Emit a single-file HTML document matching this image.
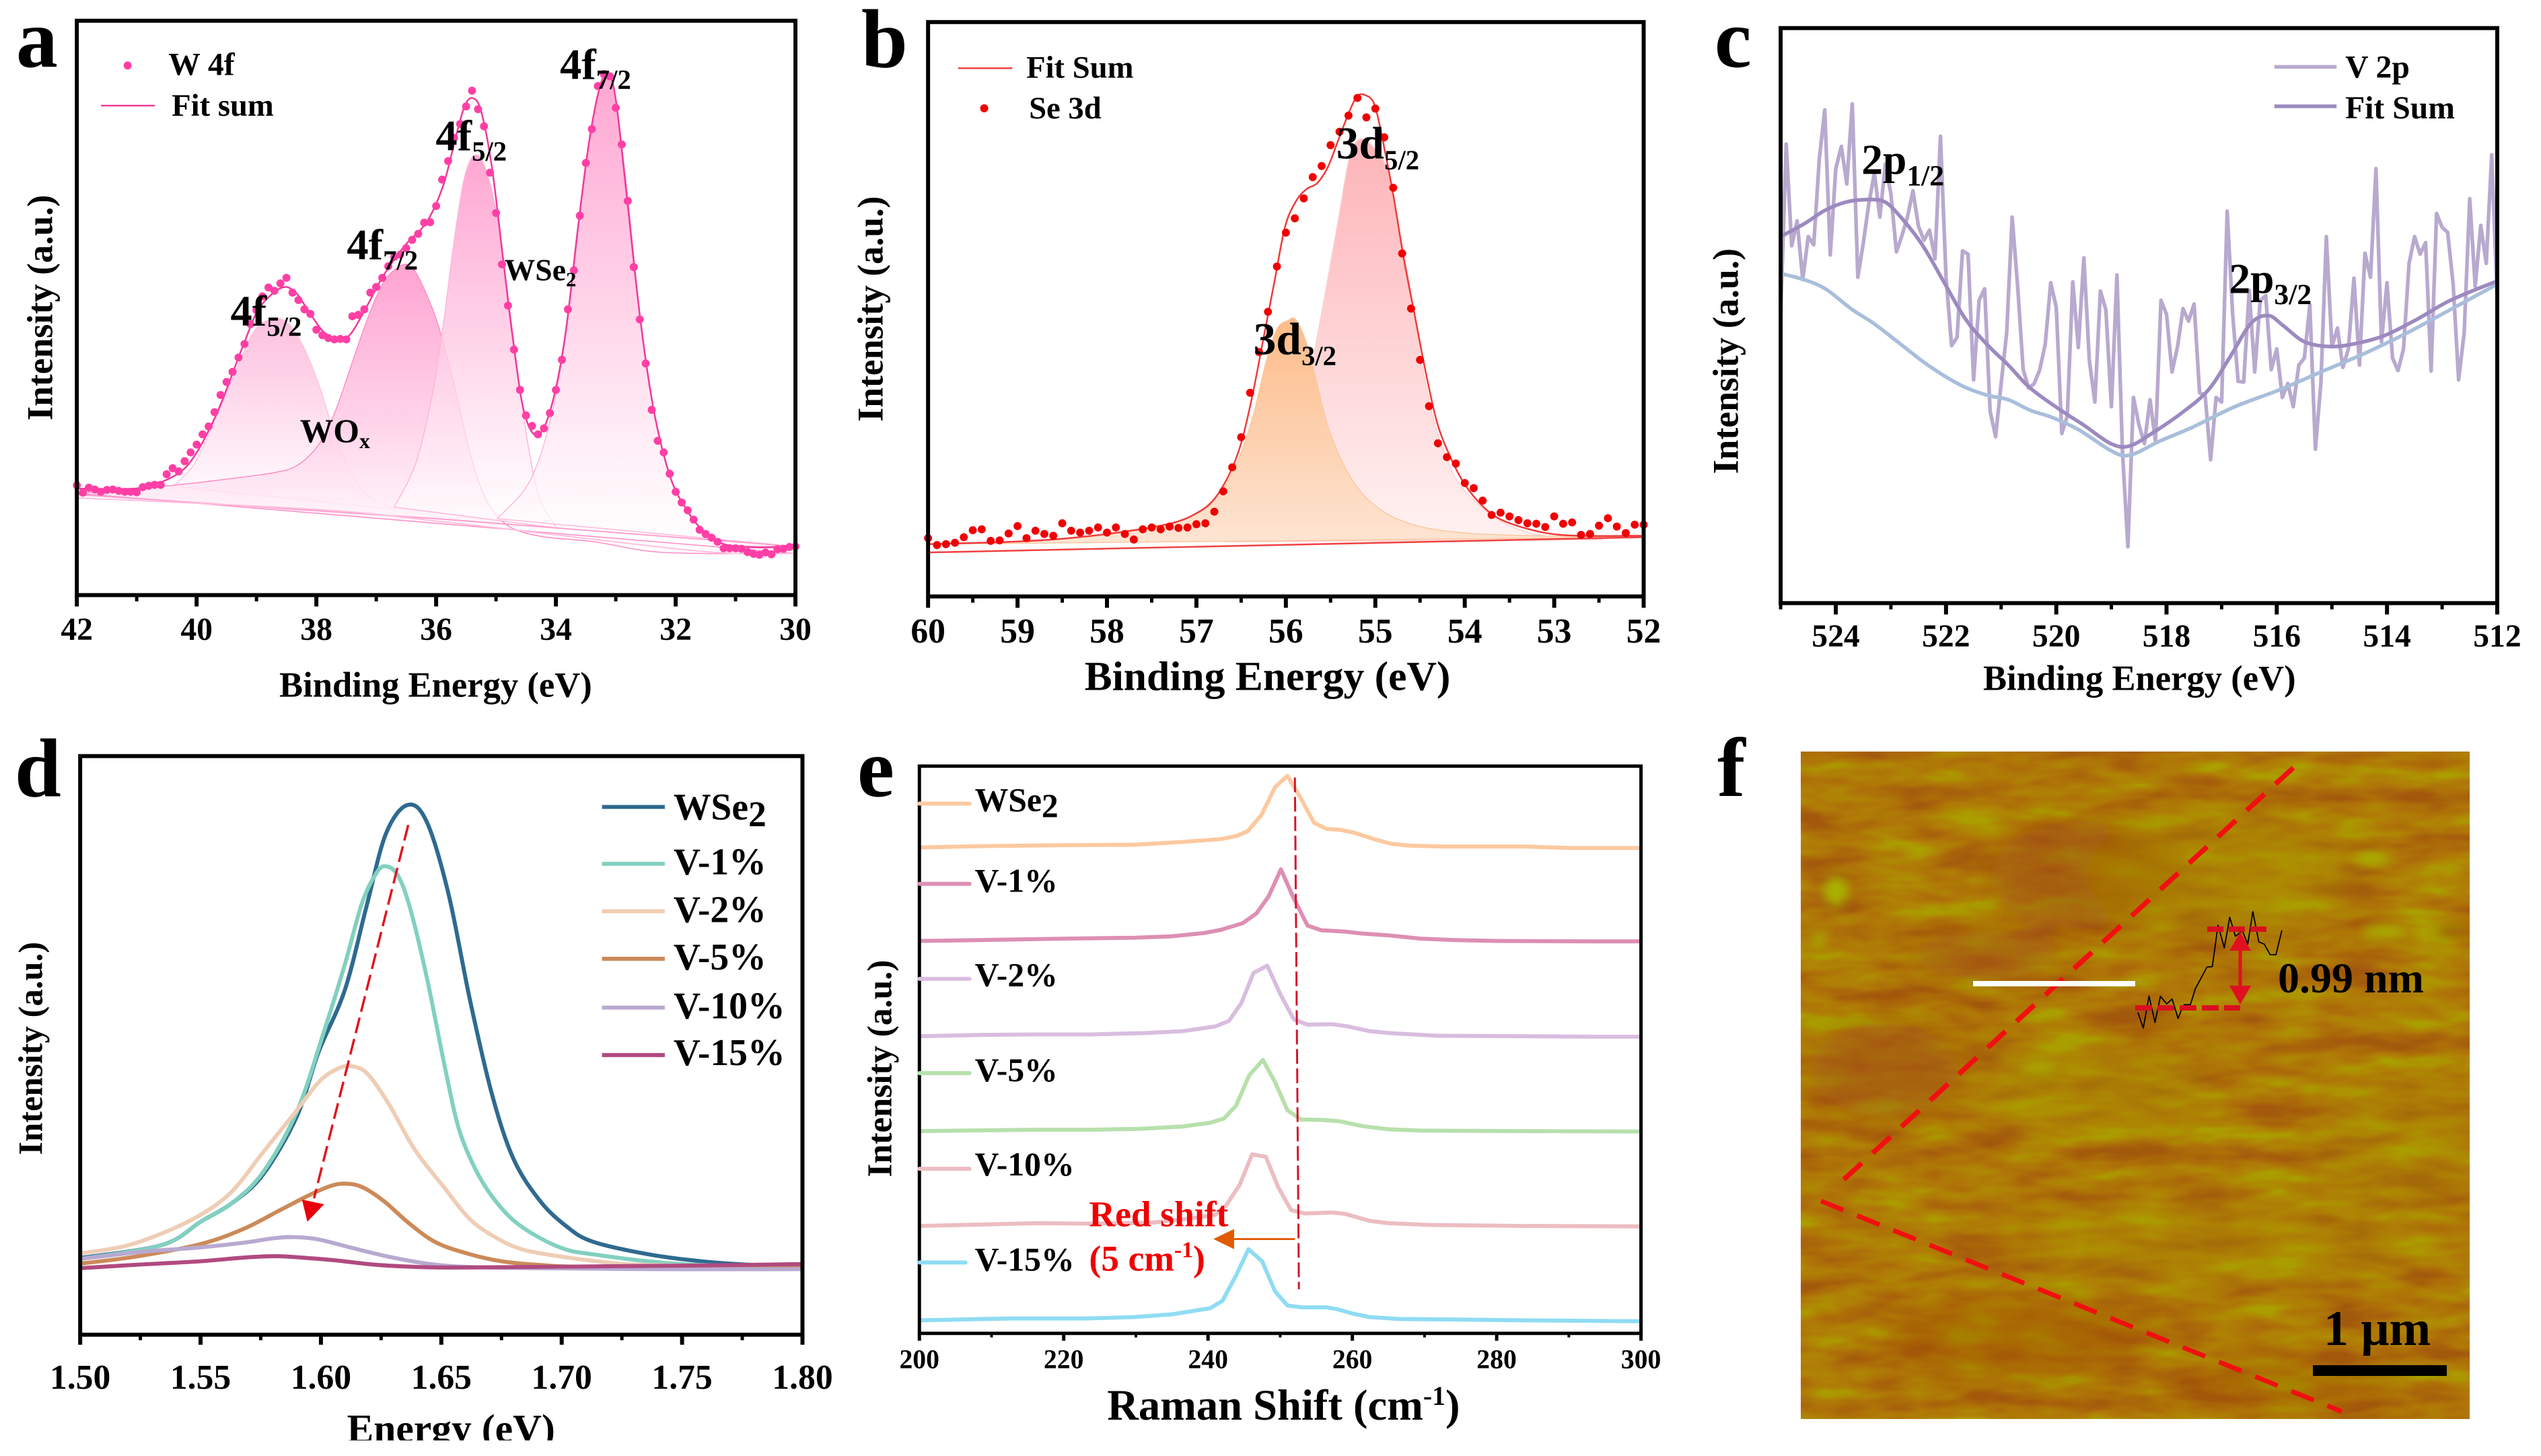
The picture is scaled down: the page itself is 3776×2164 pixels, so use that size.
<!DOCTYPE html>
<html lang="en">
<head>
<meta charset="utf-8">
<title>WSe2 characterization figure</title>
<style>
html,body{margin:0;padding:0;background:#fff;}
svg{display:block;font-family:"Liberation Serif","Noto Serif CJK SC",serif;font-weight:bold;fill:#000;}
</style>
</head>
<body>
<svg id="fig" xmlns="http://www.w3.org/2000/svg" width="3776" height="2164" viewBox="0 0 3776 2164">
<defs>
  <linearGradient id="gA1" x1="0" y1="0" x2="0" y2="1"><stop offset="0" stop-color="#fcb8da" stop-opacity=".9"/><stop offset="1" stop-color="#ffffff" stop-opacity=".9"/></linearGradient>
  <linearGradient id="gA2" x1="0" y1="0" x2="0" y2="1"><stop offset="0" stop-color="#ff98cc" stop-opacity=".9"/><stop offset=".55" stop-color="#ffcce6" stop-opacity=".85"/><stop offset="1" stop-color="#ffffff" stop-opacity=".8"/></linearGradient>
  <linearGradient id="gA3" x1="0" y1="0" x2="0" y2="1"><stop offset="0" stop-color="#ff9ccd" stop-opacity=".9"/><stop offset=".5" stop-color="#ffcde6" stop-opacity=".85"/><stop offset="1" stop-color="#ffffff" stop-opacity=".7"/></linearGradient>
  <linearGradient id="gB1" x1="0" y1="0" x2="0" y2="1"><stop offset="0" stop-color="#fdb4b8"/><stop offset="1" stop-color="#fff2f2"/></linearGradient>
  <linearGradient id="gB2" x1="0" y1="0" x2="0" y2="1"><stop offset="0" stop-color="#fdbb88"/><stop offset="1" stop-color="#fde6d6"/></linearGradient>
  <filter id="afm" x="0" y="0" width="100%" height="100%" color-interpolation-filters="sRGB">
    <feTurbulence type="fractalNoise" baseFrequency="0.009 0.03" numOctaves="3" seed="11"/>
    <feColorMatrix type="matrix" values="1.7 0 0 0 -0.35  1.7 0 0 0 -0.35  1.7 0 0 0 -0.35  0 0 0 0 1"/>
    <feComponentTransfer>
      <feFuncR type="table" tableValues="0.64 0.67 0.69 0.69 0.67"/>
      <feFuncG type="table" tableValues="0.35 0.41 0.47 0.53 0.62"/>
      <feFuncB type="table" tableValues="0.05 0.04 0.03 0.02 0.0"/>
    </feComponentTransfer>
  </filter>
  <filter id="soft" x="-50%" y="-50%" width="200%" height="200%"><feGaussianBlur stdDeviation="22"/></filter>
  <filter id="soft2" x="-50%" y="-50%" width="200%" height="200%"><feGaussianBlur stdDeviation="8"/></filter>
  <clipPath id="afmClip"><rect x="2676" y="1117" width="994" height="992"/></clipPath>
</defs>

<g id="panel-a" transform="scale(0.9929,0.9938)">
  <text x="24" y="100" font-size="125">a</text>
  <g id="plot-a"></g>
  <text transform="translate(78,460) rotate(-90)" text-anchor="middle" font-size="54">Intensity (a.u.)</text>
  <text x="652" y="1042" text-anchor="middle" font-size="53">Binding Energy (eV)</text>
  <circle cx="191" cy="98" r="6" fill="#ff3fa5"/>
  <text x="252" y="112" font-size="48">W 4f</text>
  <line x1="151" y1="158" x2="232" y2="158" stroke="#f0409a" stroke-width="2.5"/>
  <text x="257" y="173" font-size="47">Fit sum</text>
  <text x="838" y="118" font-size="65">4f<tspan dy="15" font-size="41">7/2</tspan></text>
  <text x="652" y="225" font-size="65">4f<tspan dy="15" font-size="41">5/2</tspan></text>
  <text x="519" y="388" font-size="65">4f<tspan dy="15" font-size="41">7/2</tspan></text>
  <text x="345" y="487" font-size="65">4f<tspan dy="15" font-size="41">5/2</tspan></text>
  <text x="755" y="419" font-size="46">WSe<tspan dy="9" font-size="31">2</tspan></text>
  <text x="449" y="661" font-size="50">WO<tspan dy="9" font-size="32">x</tspan></text>
</g>

<g id="panel-b" transform="translate(1260,0) scale(0.9929,0.9938) translate(-1260,0)">
  <text x="1280" y="100" font-size="125">b</text>
  <g id="plot-b"></g>
  <text transform="translate(1312,462) rotate(-90)" text-anchor="middle" font-size="54">Intensity (a.u.)</text>
  <text x="1888" y="1032" text-anchor="middle" font-size="62">Binding Energy (eV)</text>
  <line x1="1425" y1="102" x2="1506" y2="102" stroke="#f04040" stroke-width="2.5"/>
  <text x="1527" y="116" font-size="47">Fit Sum</text>
  <circle cx="1464" cy="162" r="6" fill="#f00000"/>
  <text x="1531" y="177" font-size="47">Se 3d</text>
  <text x="1991" y="237" font-size="68">3d<tspan dy="16" font-size="41">5/2</tspan></text>
  <text x="1867" y="530" font-size="68">3d<tspan dy="16" font-size="41">3/2</tspan></text>
</g>

<g id="panel-c" transform="translate(2520,0) scale(0.9929,0.9938) translate(-2520,0)">
  <text x="2548" y="100" font-size="125">c</text>
  <g id="plot-c"></g>
  <text transform="translate(2583,540) rotate(-90)" text-anchor="middle" font-size="54">Intensity (a.u.)</text>
  <text x="3184" y="1032" text-anchor="middle" font-size="53">Binding Energy (eV)</text>
  <line x1="3386" y1="100" x2="3479" y2="100" stroke="#b8a9cf" stroke-width="5.5"/>
  <text x="3492" y="116" font-size="48">V 2p</text>
  <line x1="3386" y1="159" x2="3479" y2="159" stroke="#9c8abf" stroke-width="5.5"/>
  <text x="3492" y="177" font-size="48">Fit Sum</text>
  <text x="2768" y="260" font-size="64">2p<tspan dy="17" font-size="44">1/2</tspan></text>
  <text x="3318" y="438" font-size="64">2p<tspan dy="17" font-size="44">3/2</tspan></text>
</g>

<g id="panel-d" transform="translate(0,1080) scale(0.9929,0.9942) translate(0,-1080)">
  <text x="22" y="1184" font-size="125">d</text>
  <g id="plot-d"></g>
  <text transform="translate(63,1561) rotate(-90)" text-anchor="middle" font-size="51">Intensity (a.u.)</text>
  <text x="675" y="2149" text-anchor="middle" font-size="60">Energy (eV)</text>
  <rect x="400" y="2147" width="600" height="30" fill="#fff"/>
  <g id="legend-d">
    <line x1="901" y1="1200" x2="995" y2="1200" stroke="#2f6a8f" stroke-width="6"/>
    <text x="1008" y="1219" font-size="56">WSe<tspan dy="10" font-size="54">2</tspan></text>
    <line x1="901" y1="1285" x2="995" y2="1285" stroke="#82d0c0" stroke-width="6"/>
    <text x="1008" y="1301" font-size="56">V-1%</text>
    <line x1="901" y1="1356" x2="995" y2="1356" stroke="#efcdb5" stroke-width="6"/>
    <text x="1008" y="1372" font-size="56">V-2%</text>
    <line x1="901" y1="1427" x2="995" y2="1427" stroke="#cc8a58" stroke-width="6"/>
    <text x="1008" y="1443" font-size="56">V-5%</text>
    <line x1="901" y1="1500" x2="995" y2="1500" stroke="#b8a9d0" stroke-width="6"/>
    <text x="1008" y="1516" font-size="56">V-10%</text>
    <line x1="901" y1="1571" x2="995" y2="1571" stroke="#b04a80" stroke-width="6"/>
    <text x="1008" y="1586" font-size="56">V-15%</text>
  </g>
  <line x1="611" y1="1227" x2="470" y2="1785" stroke="#e0141e" stroke-width="3.5" stroke-dasharray="24 9"/>
  <polygon points="452,1787 485,1794 460,1820" fill="#e8000b"/>
</g>

<g id="panel-e" transform="translate(1260,1080) scale(0.9929,0.9942) translate(-1260,-1080)">
  <text x="1274" y="1184" font-size="125">e</text>
  <g id="plot-e"></g>
  <text transform="translate(1325,1591) rotate(-90)" text-anchor="middle" font-size="52">Intensity (a.u.)</text>
  <text x="1912" y="2116" text-anchor="middle" font-size="65">Raman Shift (cm<tspan dy="-22" font-size="40">-1</tspan><tspan dy="22">)</tspan></text>
  <g id="legend-e">
    <line x1="1367" y1="1195" x2="1442" y2="1195" stroke="#fcc9a0" stroke-width="6" stroke-linecap="round"/>
    <text x="1450" y="1206" font-size="50">WSe<tspan dy="9" font-size="50">2</tspan></text>
    <line x1="1367" y1="1315" x2="1442" y2="1315" stroke="#dd8fb3" stroke-width="6" stroke-linecap="round"/>
    <text x="1450" y="1327" font-size="50">V-1%</text>
    <line x1="1367" y1="1457" x2="1442" y2="1457" stroke="#d9bde0" stroke-width="6" stroke-linecap="round"/>
    <text x="1450" y="1468" font-size="50">V-2%</text>
    <line x1="1367" y1="1598" x2="1442" y2="1598" stroke="#b7e0ac" stroke-width="6" stroke-linecap="round"/>
    <text x="1450" y="1610" font-size="50">V-5%</text>
    <line x1="1367" y1="1741" x2="1442" y2="1741" stroke="#ecbdc2" stroke-width="6" stroke-linecap="round"/>
    <text x="1450" y="1751" font-size="50">V-10%</text>
    <line x1="1367" y1="1881" x2="1436" y2="1881" stroke="#8fdcf3" stroke-width="6" stroke-linecap="round"/>
    <text x="1450" y="1893" font-size="50">V-15%</text>
  </g>
  <line x1="1929" y1="1156" x2="1935" y2="1921" stroke="#d4142a" stroke-width="3" stroke-dasharray="22 7"/>
  <text x="1621" y="1827" font-size="54" fill="#f00000">Red shift</text>
  <text x="1621" y="1893" font-size="54" fill="#f00000">(5 cm<tspan dy="-20" font-size="34">-1</tspan><tspan dy="20">)</tspan></text>
  <line x1="1929" y1="1846" x2="1835" y2="1846" stroke="#e05a00" stroke-width="3"/>
  <polygon points="1807,1846 1838,1831 1838,1861" fill="#e05a00"/>
</g>

<g id="panel-f">
  <text x="2552" y="1183" font-size="125">f</text>
  <g clip-path="url(#afmClip)">
    <rect x="2676" y="1117" width="994" height="992" fill="#b0780c"/>
    <rect x="2676" y="1117" width="994" height="992" filter="url(#afm)"/>
    <g filter="url(#soft)">
      <ellipse cx="3100" cy="1300" rx="140" ry="80" fill="#a0500f" opacity=".55"/>
      <ellipse cx="2950" cy="1420" rx="110" ry="35" fill="#a0500f" opacity=".5"/>
      <ellipse cx="2800" cy="1590" rx="110" ry="70" fill="#a0500f" opacity=".5"/>
      <ellipse cx="3000" cy="1990" rx="200" ry="60" fill="#a0500f" opacity=".4"/>
      <ellipse cx="3390" cy="2060" rx="180" ry="30" fill="#a0500f" opacity=".4"/>
      <ellipse cx="3300" cy="1300" rx="200" ry="90" fill="#a89a00" opacity=".35"/>
      <ellipse cx="3100" cy="1620" rx="180" ry="60" fill="#a89a00" opacity=".35"/>
      <ellipse cx="3300" cy="1850" rx="300" ry="60" fill="#a89a00" opacity=".3"/>
      <ellipse cx="3560" cy="1700" rx="120" ry="100" fill="#a89a00" opacity=".25"/>
    </g>
    <g filter="url(#soft2)">
      <ellipse cx="2728" cy="1325" rx="17" ry="22" fill="#a8b400"/>
      <ellipse cx="3525" cy="1276" rx="26" ry="10" fill="#a8b000"/>
      <ellipse cx="3545" cy="1385" rx="32" ry="9" fill="#a8b000"/>
      <ellipse cx="3028" cy="1587" rx="28" ry="10" fill="#a8a800"/>
      <ellipse cx="2703" cy="1398" rx="10" ry="12" fill="#a8a800"/>
      <ellipse cx="3650" cy="1384" rx="30" ry="6" fill="#9a4a10"/>
    </g>
  </g>
  <line x1="3408" y1="1141" x2="2728" y2="1764" stroke="#f01010" stroke-width="7.5" stroke-dasharray="36 22"/>
  <line x1="2706" y1="1785" x2="3480" y2="2098" stroke="#f01010" stroke-width="7" stroke-dasharray="36 22"/>
  <rect x="2932" y="1458" width="241" height="8" fill="#fff"/>
  <g id="profile"></g>
  <line x1="3280" y1="1381" x2="3370" y2="1381" stroke="#d81020" stroke-width="8" stroke-dasharray="24 8"/>
  <line x1="3173" y1="1498" x2="3329" y2="1498" stroke="#d81020" stroke-width="8" stroke-dasharray="25 8"/>
  <line x1="3329" y1="1400" x2="3329" y2="1480" stroke="#e01020" stroke-width="5"/>
  <polygon points="3329,1385 3313,1413 3345,1413" fill="#e01020"/>
  <polygon points="3329,1493 3313,1465 3345,1465" fill="#e01020"/>
  <text x="3385" y="1475" font-size="64">0.99 nm</text>
  <text x="3453" y="1999" font-size="74">1 μm</text>
  <rect x="3437" y="2029" width="199" height="16" fill="#000"/>
</g>
</svg>

<script>
/* ---------- panel a : W 4f ---------- */
const aDotStart = 42, aDotStep = -0.1;
const aDots = [237,221,232,228,223,227,228,225,223,223,222,233,236,238,238,261,274,267,289,308,325,347,364,395,432,460,482,513,542,585,615,645,664,657,673,685,653,637,617,607,573,561,555,552,553,552,602,605,617,653,665,685,710,730,735,749,767,780,804,805,840,897,937,987,1017,1055,1089,1049,1012,912,825,714,625,530,443,388,365,347,360,393,443,508,617,701,819,933,1006,1099,1125,1120,1052,973,851,708,595,500,400,333,308,262,223,200,183,163,141,132,124,115,101,101,101,100,93,89,87,92,88,99,100,104,105];
const aFitX = [42,41.03,40.57,40.12,39.67,39.22,38.95,38.59,38.36,38.14,37.87,37.6,37.42,37.15,36.88,36.52,36.16,35.88,35.66,35.52,35.39,35.25,35.07,34.89,34.71,34.53,34.31,34.08,33.85,33.63,33.45,33.27,33.13,33,32.82,32.59,32.36,32.09,31.82,31.55,31.19,30.65,30];
const aFitY = [230,230,245,285,390,540,620,663,655,615,567,553,565,625,690,755,805,885,995,1057,1073,1045,925,735,545,395,345,405,555,795,975,1095,1127,1070,865,595,395,255,185,140,110,103,105];
const aP1X = [40.39,40.03,39.67,39.31,39.04,38.77,38.5,38.23,37.96,37.69,37.42,37.15,36.7];
const aP1Y = [235,285,385,495,570,595,590,540,455,345,265,215,185];
const aP2X = [42,40.39,39.22,38.68,38.32,37.96,37.69,37.42,37.15,36.88,36.61,36.43,36.25,35.97,35.7,35.43,35.16,34.8,34.26,33.36,32.46,31.55,30];
const aP2Y = [220,237,255,265,280,325,395,495,595,675,710,710,675,585,455,305,205,150,127,115,95,90,90];
const aP3X = [36.7,36.34,36.06,35.88,35.7,35.52,35.34,35.16,34.98,34.8,34.62,34.44,34.26,33.99];
const aP3Y = [190,285,435,585,765,905,950,915,815,645,465,305,205,145];
const aP4X = [34.98,34.44,34.08,33.81,33.54,33.36,33.18,33.04,32.82,32.59,32.36,32.09,31.82,31.55,31.19,30];
const aP4Y = [165,245,385,585,885,1035,1120,1095,885,595,395,255,185,140,110,105];
const aBase1X = [42,36,30];
const aBase1Y = [217,165,105];
const aBase2X = [42,38,36,34,32,31,30];
const aBase2Y = [210,185,160,130,100,90,90];
const aMajor = [42,40,38,36,34,32,30];
const aMinor = [41,39,37,35,33,31];

/* ---------- panel b : Se 3d ---------- */
const bDotStart = 60, bDotStep = -0.1;
const bDots = [126,111,113,116,128,143,145,120,121,136,152,126,142,135,131,158,142,138,142,149,138,149,135,123,145,149,145,151,148,149,156,158,183,227,279,344,440,528,615,713,786,817,860,906,930,975,1004,1039,1077,1035,1054,992,883,741,622,511,411,331,301,287,245,234,207,176,181,173,165,158,157,150,173,157,160,133,135,153,169,151,137,155,155];
const bFitX = [60,59.08,58.48,57.88,57.28,56.97,56.79,56.61,56.49,56.37,56.25,56.13,56.01,55.89,55.77,55.65,55.53,55.41,55.29,55.2,55.11,55.01,54.92,54.8,54.68,54.56,54.44,54.32,54.2,54.02,53.84,53.66,53.42,53.06,52.69,52];
const bFitY = [113,118,125,138,158,183,213,273,338,438,558,678,798,853,880,893,928,988,1048,1081,1083,1063,988,868,728,608,488,383,318,248,203,173,153,136,131,131];
const bP1X = [56.67,56.19,55.89,55.71,55.53,55.41,55.29,55.17,55.01,54.86,54.74,54.62,54.5,54.38,54.26,54.08,53.84,53.6,53.18,52.45];
const bP1Y = [118,188,328,498,688,818,948,988,968,918,798,678,528,408,328,248,198,163,133,123];
const bP2X = [60,58.48,57.28,56.79,56.55,56.37,56.22,56.1,55.98,55.89,55.77,55.65,55.53,55.35,55.17,54.98,54.74,54.38,53.9,53.18,52];
const bP2Y = [113,125,158,213,288,388,508,578,596,598,548,458,368,283,228,193,166,146,136,131,128];
const bBaseX = [60,52];
const bBaseY = [95,128];
const bMajor = [60,59,58,57,56,55,54,53,52];
const bMinor = [59.5,58.5,57.5,56.5,55.5,54.5,53.5,52.5];

/* ---------- panel c : V 2p ---------- */
const cDataStart = 525, cDataStep = -0.1;
const cData = [625,993,773,827,700,793,775,960,1067,753,940,988,907,1080,705,780,865,930,835,950,885,760,795,835,892,815,785,807,745,1010,705,557,575,762,755,483,655,680,415,360,475,585,835,685,505,465,475,505,560,693,640,367,405,695,553,747,525,435,675,635,425,710,330,122,445,385,345,440,350,655,625,500,555,637,610,647,455,450,310,445,435,848,625,480,478,677,500,655,665,505,550,445,475,425,515,530,645,333,475,793,555,595,510,550,703,515,757,705,940,565,693,530,503,550,735,793,755,780,502,843,813,802,690,483,585,875,685,817,735,970,655];
const cFitX = [525,524.58,524.19,523.8,523.41,523.11,522.82,522.43,522.04,521.65,521.26,520.87,520.47,519.89,519.5,519.01,518.67,518.23,517.74,517.25,516.86,516.47,516.15,515.88,515.49,515,514.51,514.02,513.44,512.85,512];
const cFitY = [793,820,850,868,873,868,835,775,695,615,560,515,465,415,385,345,340,370,410,460,530,605,622,600,565,555,563,580,615,655,697];
const cBgX = [525,524.58,524.19,523.7,523.31,522.82,522.33,521.74,521.26,520.87,520.47,520.08,519.59,519.01,518.67,518.13,517.54,516.76,515.98,515.2,514.41,513.63,512.85,512];
const cBgY = [713,700,680,635,605,560,515,472,450,440,417,402,375,330,320,350,380,425,460,500,540,585,635,690];
const cMajor = [524,522,520,518,516,514,512];
const cMinor = [525,523,521,519,517,515,513];

/* ---------- panel d : PL ---------- */
const dWse2X = [1.5,1.534,1.55,1.563,1.576,1.59,1.599,1.61,1.619,1.627,1.636,1.644,1.653,1.662,1.671,1.68,1.691,1.702,1.713,1.736,1.758,1.78,1.8];
const dWse2Y = [165,193,243,283,345,470,608,743,923,1078,1140,1103,948,718,518,378,288,233,200,173,158,150,148];
const dV1X = [1.5,1.534,1.55,1.563,1.576,1.59,1.601,1.61,1.617,1.623,1.627,1.632,1.637,1.644,1.651,1.657,1.664,1.671,1.68,1.691,1.702,1.713,1.736,1.758,1.8];
const dV1Y = [163,193,243,283,350,480,648,798,928,993,1008,988,918,768,588,448,358,298,246,208,183,173,158,150,146];
const dV2X = [1.5,1.518,1.534,1.55,1.563,1.576,1.59,1.599,1.606,1.612,1.619,1.628,1.639,1.651,1.662,1.673,1.684,1.7,1.718,1.736,1.8];
const dV2Y = [175,190,218,258,308,393,483,543,570,578,563,498,398,318,248,208,183,168,156,150,145];
const dV5X = [1.5,1.523,1.55,1.568,1.583,1.595,1.604,1.61,1.617,1.626,1.637,1.648,1.662,1.675,1.691,1.713,1.8];
const dV5Y = [153,168,195,228,268,300,320,325,318,288,238,198,173,158,150,146,145];
const dV10X = [1.5,1.525,1.55,1.568,1.581,1.589,1.599,1.612,1.628,1.644,1.66,1.691,1.736,1.8];
const dV10Y = [163,178,188,198,208,210,205,188,168,153,146,143,141,141];
const dV15X = [1.5,1.525,1.55,1.568,1.581,1.592,1.606,1.624,1.646,1.668,1.713,1.758,1.8];
const dV15Y = [143,151,158,166,169,166,160,150,145,145,147,149,152];
const dMajor = [1.5,1.55,1.6,1.65,1.7,1.75,1.8];
const dMinor = [1.525,1.575,1.625,1.675,1.725,1.775];
const dLabels = ['1.50','1.55','1.60','1.65','1.70','1.75','1.80'];

/* ---------- panel e : Raman ---------- */
const eWse2X = [200,208.8,220,229.8,236.5,241.8,244,245.5,247.4,249.3,251,252.7,254.7,256.4,258.3,260.2,263.2,265.4,268,272.5,283.8,289.8,300];
const eWse2Y = [1045,1048,1050,1051,1057,1063,1070,1080,1115,1175,1199,1155,1098,1085,1083,1077,1062,1053,1049,1047,1047,1044,1044];
const eV1X = [200,208.8,220,229.8,235,239.5,241.8,244.8,246.7,248.4,250.1,251.9,253.8,255.7,259,261.3,265,269.5,274,280,293.5,300];
const eV1Y = [844,846,849,851,854,861,868,882,903,940,998,935,877,867,864,860,856,849,846,844,843,843];
const eV2X = [200,208.8,216.3,223.8,231.3,236.5,241,242.9,244.6,246.3,248.2,250,251.9,253.8,257.2,259.4,262.4,265,271.8,283.8,293.5,300];
const eV2Y = [639,642,643,643,646,650,660,672,710,775,791,730,675,664,665,660,650,646,640,639,638,638];
const eV5X = [200,216.3,223.8,230.5,236.5,240.3,242.2,243.9,245.7,247.6,249.3,251,252.9,256,258.3,261.3,265,269.5,283.8,300];
const eV5Y = [435,438,438,440,445,453,462,490,555,588,540,480,460,459,456,446,439,436,435,434];
const eV10X = [200,216.3,223.8,232,236.5,241,242.5,244.4,246.1,248,249.7,251.5,253.4,257.2,259,262.4,265,271,283.8,300];
const eV10Y = [231,237,236,238,245,255,275,320,385,380,315,265,258,260,257,242,237,233,231,230];
const eV15X = [200,212.5,223,229.8,235,240.3,242,243.9,245.6,247.5,249.3,251,253,256.4,257.9,260.2,262.4,266.5,272.5,283.8,300];
const eV15Y = [28,32,32,35,41,54,70,125,181,155,90,60,56,56,52,42,35,31,30,28,26];
const eMajor = [200,220,240,260,280,300];
const eMinor = [210,230,250,270,290];

/* ---------- panel f : height profile ---------- */
const fDist = [0,18,37,57,75,96,114,134,145,154,175,191,230,248,267,288,306,325,348,366,383,403,421,441,460,480];
const fHeight = [73,3,146,28,145,111,133,46,83,108,108,178,275,278,463,361,498,413,438,378,523,388,378,331,331,440];

const NS = 'http://www.w3.org/2000/svg';

function scales(p){
  return {
    x: v => p.left + (v - p.xMin) / (p.xMax - p.xMin) * (p.right - p.left),
    y: v => p.bottom - v / p.yMax * (p.bottom - p.top)
  };
}
function pathD(xs, ys, s, smooth){
  const pts = xs.map((v,i) => [s.x(v), s.y(ys[i])]);
  let d = 'M' + pts[0][0].toFixed(1) + ' ' + pts[0][1].toFixed(1);
  for(let i = 0; i < pts.length - 1; i++){
    const p0 = pts[Math.max(i-1,0)], p1 = pts[i], p2 = pts[i+1], p3 = pts[Math.min(i+2,pts.length-1)];
    if(smooth){
      const c1x = p1[0] + (p2[0]-p0[0])/6, c1y = p1[1] + (p2[1]-p0[1])/6;
      const c2x = p2[0] - (p3[0]-p1[0])/6, c2y = p2[1] - (p3[1]-p1[1])/6;
      d += 'C' + c1x.toFixed(1) + ' ' + c1y.toFixed(1) + ' ' + c2x.toFixed(1) + ' ' + c2y.toFixed(1) + ' ' + p2[0].toFixed(1) + ' ' + p2[1].toFixed(1);
    } else {
      d += 'L' + p2[0].toFixed(1) + ' ' + p2[1].toFixed(1);
    }
  }
  return d;
}
function drawLine(group, name, xs, ys, s, stroke, width, smooth){
  const el = document.createElementNS(NS, 'path');
  
  
  el.setAttribute('d', pathD(xs, ys, s, smooth));
  el.setAttribute('fill', 'none');
  el.setAttribute('stroke', stroke);
  el.setAttribute('stroke-width', width);
  el.setAttribute('stroke-linejoin', 'round');
  group.appendChild(el);
}
function drawPeak(group, name, xs, ys, s, fill, stroke, closeX, closeY){
  const el = document.createElementNS(NS, 'path');
  
  
  let d = pathD(xs, ys, s, true);
  if(closeX){ closeX.forEach((v,i) => { d += 'L' + s.x(v).toFixed(1) + ' ' + s.y(closeY[i]).toFixed(1); }); }
  el.setAttribute('d', d + 'Z');
  el.setAttribute('fill', fill);
  el.setAttribute('stroke', stroke);
  el.setAttribute('stroke-width', '1.5');
  group.appendChild(el);
}
function drawDots(group, name, start, step, values, s, color, r){
  values.forEach((v,i) => {
    const c = document.createElementNS(NS, 'circle');
    
    
    c.setAttribute('cx', s.x(start + i * step).toFixed(1));
    c.setAttribute('cy', s.y(v).toFixed(1));
    c.setAttribute('r', r);
    c.setAttribute('fill', color);
    group.appendChild(c);
  });
}
function drawAxes(group, p, s, major, minor, labels){
  const frame = document.createElementNS(NS, 'rect');
  
  
  frame.setAttribute('x', p.left);
  frame.setAttribute('y', p.top);
  frame.setAttribute('width', p.right - p.left);
  frame.setAttribute('height', p.bottom - p.top);
  frame.setAttribute('fill', 'none');
  frame.setAttribute('stroke', '#000');
  frame.setAttribute('stroke-width', p.frame);
  group.appendChild(frame);
  major.forEach((v,i) => {
    const t = document.createElementNS(NS, 'line');
    
    
    t.setAttribute('x1', s.x(v));
    t.setAttribute('x2', s.x(v));
    t.setAttribute('y1', p.bottom);
    t.setAttribute('y2', p.bottom + p.tick);
    t.setAttribute('stroke', '#000');
    t.setAttribute('stroke-width', p.frame);
    group.appendChild(t);
    const l = document.createElementNS(NS, 'text');
    
    
    l.setAttribute('x', s.x(v));
    l.setAttribute('y', p.labelY);
    l.setAttribute('text-anchor', 'middle');
    l.setAttribute('font-size', p.labelSize);
    l.textContent = labels ? labels[i] : String(v);
    group.appendChild(l);
  });
  minor.forEach(v => {
    const t = document.createElementNS(NS, 'line');
    
    
    t.setAttribute('x1', s.x(v));
    t.setAttribute('x2', s.x(v));
    t.setAttribute('y1', p.bottom);
    t.setAttribute('y2', p.bottom + p.tick * 0.55);
    t.setAttribute('stroke', '#000');
    t.setAttribute('stroke-width', p.frame - 1);
    group.appendChild(t);
  });
}

/* layout */
const panelA = {left:115, right:1190.5, top:31, bottom:890, xMin:42, xMax:30, yMax:1240, labelY:957, labelSize:48, tick:17, frame:6};
const panelB = {left:1380, right:2451, top:33, bottom:892, xMin:60, xMax:52, yMax:1241, labelY:961, labelSize:52, tick:17, frame:6};
const panelC = {left:2647, right:3719.5, top:42, bottom:902, xMin:525, xMax:512, yMax:1244, labelY:967, labelSize:48, tick:17, frame:6};
const panelD = {left:120, right:1201, top:1124, bottom:1989, xMin:1.5, xMax:1.8, yMax:1245, labelY:2070, labelSize:52, tick:15, frame:6};
const panelE = {left:1367, right:2447, top:1139, bottom:1987, xMin:200, xMax:300, yMax:1220, labelY:2039, labelSize:40, tick:11, frame:5};

/* panel a */
const ga = document.getElementById('plot-a');
const sa = scales(panelA);
drawPeak(ga, 'peak-4f52-wox', aP1X, aP1Y, sa, 'url(#gA1)', '#ffc4e0');
drawPeak(ga, 'peak-4f72-wox', aP2X, aP2Y, sa, 'url(#gA2)', '#ff8cc6');
drawPeak(ga, 'peak-4f52-wse2', aP3X, aP3Y, sa, 'url(#gA3)', '#ffb6da');
drawPeak(ga, 'peak-4f72-wse2', aP4X, aP4Y, sa, 'url(#gA3)', '#ffb6da');
drawLine(ga, 'baseline-a', aBase1X, aBase1Y, sa, '#ff9fcf', 2, false);
drawLine(ga, 'baseline-a-secondary', aBase2X, aBase2Y, sa, '#ffc0de', 2, true);
drawLine(ga, 'fit-sum-curve-a', aFitX, aFitY, sa, '#f0389a', 2.5, true);
drawDots(ga, 'w4f-data-point', aDotStart, aDotStep, aDots, sa, '#ff3fa5', 6);
drawAxes(ga, panelA, sa, aMajor, aMinor);

/* panel b */
const gb = document.getElementById('plot-b');
const sb = scales(panelB);
drawPeak(gb, 'peak-3d52', bP1X, bP1Y, sb, 'url(#gB1)', '#fbd0d0');
drawPeak(gb, 'peak-3d32', bP2X, bP2Y, sb, 'url(#gB2)', '#fbc8a0', bBaseX, bBaseY);
drawLine(gb, 'baseline-b', bBaseX, bBaseY, sb, '#f04040', 2.5, false);
drawLine(gb, 'fit-sum-curve-b', bFitX, bFitY, sb, '#f03a3a', 2.5, true);
drawDots(gb, 'se3d-data-point', bDotStart, bDotStep, bDots, sb, '#f00000', 6);
drawAxes(gb, panelB, sb, bMajor, bMinor);

/* panel c */
const gc = document.getElementById('plot-c');
const sc = scales(panelC);
const cX = cData.map((v,i) => cDataStart + i * cDataStep);
drawLine(gc, 'v2p-raw-curve', cX, cData, sc, '#b8a9cf', 5.5, false);
drawLine(gc, 'v2p-background-curve', cBgX, cBgY, sc, '#a9bedb', 5.5, true);
drawLine(gc, 'fit-sum-curve-c', cFitX, cFitY, sc, '#9c8abf', 5.5, true);
drawAxes(gc, panelC, sc, cMajor, cMinor);

/* panel d */
const gd = document.getElementById('plot-d');
const sd = scales(panelD);
drawLine(gd, 'pl-curve-wse2', dWse2X, dWse2Y, sd, '#2f6a8f', 6, true);
drawLine(gd, 'pl-curve-v1', dV1X, dV1Y, sd, '#82d0c0', 6, true);
drawLine(gd, 'pl-curve-v2', dV2X, dV2Y, sd, '#efcdb5', 6, true);
drawLine(gd, 'pl-curve-v5', dV5X, dV5Y, sd, '#cc8a58', 6, true);
drawLine(gd, 'pl-curve-v10', dV10X, dV10Y, sd, '#b8a9d0', 6, true);
drawLine(gd, 'pl-curve-v15', dV15X, dV15Y, sd, '#b04a80', 6, true);
drawAxes(gd, panelD, sd, dMajor, dMinor, dLabels);

/* panel e */
const ge = document.getElementById('plot-e');
const se = scales(panelE);
drawLine(ge, 'raman-curve-wse2', eWse2X, eWse2Y, se, '#fcc9a0', 6, false);
drawLine(ge, 'raman-curve-v1', eV1X, eV1Y, se, '#dd8fb3', 6, false);
drawLine(ge, 'raman-curve-v2', eV2X, eV2Y, se, '#d9bde0', 6, false);
drawLine(ge, 'raman-curve-v5', eV5X, eV5Y, se, '#b7e0ac', 6, false);
drawLine(ge, 'raman-curve-v10', eV10X, eV10Y, se, '#ecbdc2', 6, false);
drawLine(ge, 'raman-curve-v15', eV15X, eV15Y, se, '#8fdcf3', 6, false);
drawAxes(ge, panelE, se, eMajor, eMinor);

/* panel f profile */
const gp = document.getElementById('profile');
const profileBox = {left:3177, right:3391, top:1355, bottom:1529, xMin:0, xMax:480, yMax:523};
const sp = scales(profileBox);
drawLine(gp, 'height-profile-line', fDist, fHeight, sp, '#000', 1.8, false);
</script>
</body>
</html>
